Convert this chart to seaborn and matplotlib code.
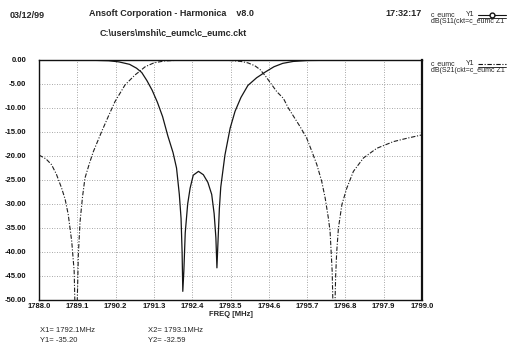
import pandas as pd
import matplotlib.pyplot as plt
import seaborn as sns
from matplotlib.lines import Line2D
from matplotlib.ticker import MultipleLocator

# S11 return loss (MHz, dB)
freq_s11 = [1788.0, 1789.0, 1789.5, 1790.0, 1790.3, 1790.6, 1790.8, 1790.95, 1791.1, 1791.25,
            1791.4, 1791.55, 1791.7, 1791.85, 1791.95, 1792.03, 1792.08, 1792.11, 1792.13, 1792.16,
            1792.2, 1792.27, 1792.34, 1792.43, 1792.58, 1792.72, 1792.85, 1792.96, 1793.03, 1793.08,
            1793.11, 1793.14, 1793.18, 1793.22, 1793.34, 1793.49, 1793.63, 1793.8, 1794.0, 1794.25,
            1794.5, 1794.75, 1795.0, 1795.3, 1795.7, 1796.5, 1799.0]
s11_db = [-0.02, -0.03, -0.05, -0.15, -0.4, -0.9, -1.7, -2.6, -4.3, -6.3,
          -8.8, -11.8, -15.8, -19.3, -22.5, -28.0, -33.0, -40.0, -48.2, -44.0,
          -36.0, -30.0, -26.7, -24.0, -23.2, -23.9, -25.5, -28.0, -32.0, -37.0,
          -43.3, -38.0, -31.0, -26.5, -19.8, -14.2, -10.7, -7.8, -5.3, -3.7,
          -2.5, -1.4, -0.7, -0.3, -0.1, -0.05, -0.02]

# S21 insertion loss (MHz, dB)
freq_s21 = [1788.0, 1788.2, 1788.36, 1788.5, 1788.65, 1788.75, 1788.84, 1788.94, 1789.01, 1789.06,
            1789.11, 1789.13, 1789.18, 1789.25, 1789.32, 1789.45, 1789.56, 1789.8, 1790.0, 1790.18,
            1790.47, 1790.76, 1790.9, 1791.05, 1791.3, 1791.6, 1792.0, 1793.0, 1793.5, 1793.8,
            1794.0, 1794.2, 1794.35, 1794.5, 1794.65, 1794.83, 1795.02, 1795.16, 1795.5, 1795.69,
            1795.84, 1795.98, 1796.12, 1796.22, 1796.31, 1796.36, 1796.39, 1796.42, 1796.47, 1796.52,
            1796.55, 1796.6, 1796.7, 1796.84, 1797.03, 1797.32, 1797.7, 1798.18, 1798.57, 1799.0]
s21_db = [-19.8, -20.6, -21.8, -23.8, -26.7, -29.0, -32.2, -37.8, -44.0, -60.0,
          -47.0, -40.5, -33.6, -28.5, -24.6, -21.5, -19.1, -14.9, -11.6, -8.7,
          -5.2, -3.1, -2.3, -1.4, -0.6, -0.2, -0.05, -0.05, -0.1, -0.3,
          -0.6, -1.2, -2.0, -3.3, -4.8, -6.6, -8.0, -10.0, -13.9, -16.3,
          -19.1, -21.8, -25.3, -28.8, -32.9, -35.7, -39.9, -44.0, -60.0, -45.0,
          -40.0, -35.0, -30.1, -26.7, -23.2, -20.4, -18.4, -17.0, -16.3, -15.6]

x_ticks = [1788.0, 1789.1, 1790.2, 1791.3, 1792.4, 1793.5, 1794.6, 1795.7, 1796.8, 1797.9, 1799.0]
y_ticks = [0, -5, -10, -15, -20, -25, -30, -35, -40, -45, -50]

s11 = pd.DataFrame({'freq': freq_s11, 'db': s11_db})
s21 = pd.DataFrame({'freq': freq_s21, 'db': s21_db})

sns.set_style('white')
plt.rcParams['font.family'] = ['Liberation Sans', 'DejaVu Sans']

W, H = 516, 347
fig = plt.figure(figsize=(W / 100, H / 100), dpi=100)
ax = fig.add_axes([39 / W, 1 - 300 / H, (422 - 39) / W, (300 - 60) / H])

sns.lineplot(data=s11, x='freq', y='db', ax=ax, color='#151515', linewidth=0.9,
             estimator=None, sort=False)
sns.lineplot(data=s21, x='freq', y='db', ax=ax, color='#202020', linewidth=0.8,
             estimator=None, sort=False, linestyle=(0, (4, 1.5, 1, 1.5)))

ax.set_xlim(1788.0, 1799.0)
ax.set_ylim(-50, 0)
ax.set_xticks(x_ticks)
ax.set_xticklabels([f'{t:.1f}' for t in x_ticks])
ax.set_yticks(y_ticks)
ax.set_yticklabels([f'{t:.2f}' for t in y_ticks])
ax.yaxis.set_minor_locator(MultipleLocator(2.5))
ax.grid(True, which='major', color='#8a8a8a', linestyle=(0, (1, 2)), linewidth=0.6)
ax.tick_params(axis='y', which='major', direction='out', length=8, width=0.8,
               labelsize=5.5, pad=1, colors='#111')
ax.tick_params(axis='y', which='minor', direction='out', length=3, width=0.6, colors='#111')
ax.tick_params(axis='x', which='major', direction='in', length=4, width=0.8,
               labelsize=5.5, pad=2, colors='#111')
for lbl in ax.get_xticklabels() + ax.get_yticklabels():
    lbl.set_fontweight('bold')
for s in ax.spines.values():
    s.set_color('#111')
    s.set_linewidth(1.0)
ax.spines['right'].set_linewidth(1.6)

ax.set_xlabel('FREQ [MHz]', fontsize=5.5, fontweight='bold', labelpad=1)
ax.set_ylabel('')


def ft(x, y, s, va='center', **kw):
    fig.text(x / W, 1 - y / H, s, va=va, **kw)


def legend_line(y, **kw):
    xs = [478 / W, 492 / W, 506 / W]
    fig.add_artist(Line2D(xs, [1 - y / H] * 3, color='#111', linewidth=0.8,
                          transform=fig.transFigure, **kw))
    fig.add_artist(Line2D([478 / W, 506 / W], [1 - (y + 2.5) / H] * 2, color='#111',
                          linewidth=0.6, transform=fig.transFigure))


# header
ft(10, 15, '03/12/99', fontsize=6.5, fontweight='bold')
ft(89, 14, 'Ansoft Corporation - Harmonica    v8.0', fontsize=6.5, fontweight='bold')
ft(100, 33, 'C:\\users\\mshi\\c_eumc\\c_eumc.ckt', fontsize=6.5, fontweight='bold')
ft(385, 13, '17:32:17', fontsize=6.5, fontweight='bold')

# legend blocks
ft(431, 16, 'c_eumc', va='baseline', fontsize=5)
ft(466, 16, 'Y1', va='baseline', fontsize=5)
ft(431, 23, 'dB(S11(ckt=c_eumc Z1', va='baseline', fontsize=5)
legend_line(15, marker='o', markevery=[1], markersize=3.5, markerfacecolor='white')

ft(431, 65, 'c_eumc', va='baseline', fontsize=5)
ft(466, 65, 'Y1', va='baseline', fontsize=5)
ft(431, 72, 'dB(S21(ckt=c_eumc Z1', va='baseline', fontsize=5)
legend_line(64, linestyle=(0, (4, 1.5, 1, 1.5)))

# marker readouts
ft(40, 330, 'X1= 1792.1MHz', fontsize=5.5)
ft(40, 341, 'Y1= -35.20', fontsize=5.5)
ft(148, 330, 'X2= 1793.1MHz', fontsize=5.5)
ft(148, 341, 'Y2= -32.59', fontsize=5.5)

fig.savefig('out.png', dpi=100)
